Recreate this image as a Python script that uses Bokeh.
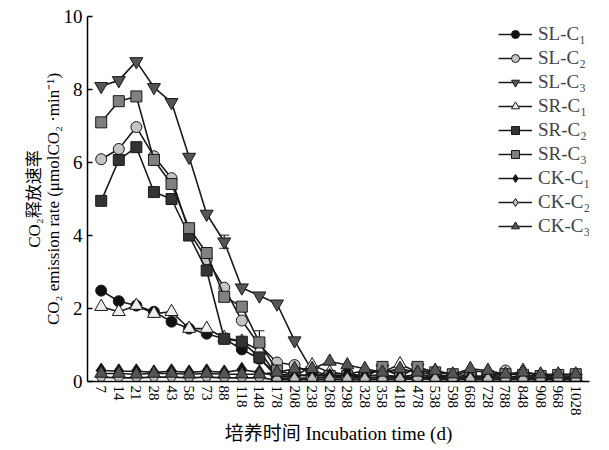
from bokeh.plotting import figure
from bokeh.models import FactorRange, Legend, LegendItem, Whisker, ColumnDataSource
from bokeh.embed import file_html
from bokeh.resources import INLINE

days = ["7", "14", "21", "28", "43", "58", "73", "88", "118", "148", "178", "208", "238", "268",
        "298", "328", "358", "418", "478", "538", "598", "668", "728", "788", "848", "908", "968", "1028"]

SL_C1 = [2.49, 2.20, 2.08, 1.91, 1.64, 1.45, 1.31, 1.17, 0.88, 0.62, 0.20, 0.18, 0.15, 0.20, 0.22, 0.15, 0.18, 0.12, 0.20, 0.12, 0.10, 0.12, 0.12, 0.10, 0.12, 0.10, 0.10, 0.10]
SL_C2 = [6.09, 6.37, 6.97, 6.17, 5.57, 4.10, 3.35, 2.57, 1.67, 1.00, 0.52, 0.45, 0.20, 0.15, 0.12, 0.10, 0.12, 0.10, 0.10, 0.10, 0.10, 0.12, 0.10, 0.30, 0.12, 0.10, 0.10, 0.10]
SL_C3 = [8.09, 8.25, 8.77, 8.06, 7.65, 6.15, 4.59, 3.83, 2.57, 2.35, 2.13, 1.12, 0.30, 0.15, 0.12, 0.15, 0.35, 0.15, 0.38, 0.15, 0.12, 0.10, 0.12, 0.10, 0.10, 0.10, 0.10, 0.10]
SR_C1 = [2.05, 1.91, 2.08, 1.86, 1.91, 1.45, 1.45, 1.20, 1.10, 0.85, 0.15, 0.12, 0.45, 0.25, 0.20, 0.30, 0.25, 0.48, 0.25, 0.18, 0.15, 0.30, 0.25, 0.15, 0.30, 0.12, 0.12, 0.12]
SR_C2 = [4.95, 6.07, 6.42, 5.19, 5.00, 4.00, 3.04, 1.17, 1.09, 0.66, 0.10, 0.08, 0.10, 0.10, 0.10, 0.10, 0.10, 0.10, 0.10, 0.10, 0.10, 0.10, 0.10, 0.10, 0.10, 0.10, 0.10, 0.12]
SR_C3 = [7.10, 7.68, 7.81, 6.07, 5.41, 4.20, 3.52, 2.32, 2.05, 1.07, 0.30, 0.18, 0.15, 0.15, 0.15, 0.12, 0.40, 0.15, 0.40, 0.25, 0.20, 0.15, 0.15, 0.20, 0.18, 0.15, 0.18, 0.20]
CK_C1 = [0.30, 0.28, 0.28, 0.25, 0.28, 0.25, 0.28, 0.25, 0.32, 0.25, 0.15, 0.15, 0.20, 0.15, 0.18, 0.15, 0.18, 0.12, 0.18, 0.12, 0.12, 0.12, 0.12, 0.12, 0.15, 0.15, 0.15, 0.15]
CK_C2 = [0.12, 0.10, 0.10, 0.12, 0.12, 0.10, 0.12, 0.10, 0.10, 0.10, 0.05, 0.05, 0.05, 0.05, 0.05, 0.05, 0.05, 0.05, 0.08, 0.05, 0.05, 0.05, 0.05, 0.05, 0.05, 0.05, 0.05, 0.05]
CK_C3 = [0.22, 0.22, 0.20, 0.22, 0.22, 0.20, 0.22, 0.20, 0.20, 0.20, 0.25, 0.35, 0.35, 0.55, 0.45, 0.35, 0.25, 0.35, 0.25, 0.30, 0.20, 0.35, 0.30, 0.20, 0.25, 0.20, 0.20, 0.20]

# error bars (only where visible)
err_days = ["88", "148"]
err_vals = [3.83, 1.07]
err_size = [0.18, 0.32]

series = [
    ("SL-C₁", SL_C1, "circle", "#111111"),
    ("SL-C₂", SL_C2, "circle", "#c4c4c4"),
    ("SL-C₃", SL_C3, "inverted_triangle", "#555555"),
    ("SR-C₁", SR_C1, "triangle", "#eeeeee"),
    ("SR-C₂", SR_C2, "square", "#333333"),
    ("SR-C₃", SR_C3, "square", "#808080"),
    ("CK-C₁", CK_C1, "diamond", "#111111"),
    ("CK-C₂", CK_C2, "diamond", "#bbbbbb"),
    ("CK-C₃", CK_C3, "triangle", "#555555"),
]
marker_size = {"circle": 11, "square": 11, "diamond": 15, "triangle": 13, "inverted_triangle": 13}

SERIF = "'Liberation Serif', 'Times New Roman', 'Noto Sans CJK SC', serif"

p = figure(width=593, height=446, x_range=FactorRange(factors=days, range_padding=0.02),
           y_range=(0, 10), output_backend="svg", toolbar_location=None,
           min_border_left=87, min_border_right=4, min_border_top=16, min_border_bottom=50)
p.outline_line_color = None
p.grid.visible = False
p.background_fill_color = "white"

items = []
for name, vals, marker, color in series:
    src = ColumnDataSource(dict(x=days, y=vals))
    r1 = p.line("x", "y", source=src, line_color="#1a1a1a", line_width=1.6)
    r2 = p.scatter("x", "y", source=src, marker=marker, size=marker_size[marker], fill_color=color,
                   line_color="#1a1a1a", line_width=1)
    items.append(LegendItem(label=name, renderers=[r1, r2]))

esrc = ColumnDataSource(dict(x=err_days, lo=[v - e for v, e in zip(err_vals, err_size)],
                             hi=[v + e for v, e in zip(err_vals, err_size)]))
w = Whisker(base="x", lower="lo", upper="hi", source=esrc, line_color="#1a1a1a", line_width=1.2)
w.upper_head.size = 10
w.lower_head.size = 10
w.upper_head.line_color = "#1a1a1a"
w.lower_head.line_color = "#1a1a1a"
p.add_layout(w)

legend = Legend(items=items, location=(411, 144), border_line_color=None,
                background_fill_alpha=0, label_text_font=SERIF, label_text_font_size="19px",
                glyph_width=34, glyph_height=20, label_height=20, spacing=2,
                margin=0, padding=8, label_standoff=6)
p.add_layout(legend)

p.yaxis.ticker = [0, 2, 4, 6, 8, 10]
p.yaxis.major_tick_in = 5
p.yaxis.major_tick_out = 0
p.yaxis.minor_tick_line_color = None
p.yaxis.major_label_text_font = SERIF
p.yaxis.major_label_text_font_size = "19px"
p.yaxis.axis_label = "CO₂释放速率\nCO₂ emission rate (μmolCO₂ ·min⁻¹)"
p.yaxis.axis_label_text_font = SERIF
p.yaxis.axis_label_text_font_size = "17px"
p.yaxis.axis_label_text_font_style = "normal"
p.yaxis.axis_label_text_line_height = 1.0
p.yaxis.axis_label_standoff = -2

p.xaxis.major_label_orientation = "vertical"
p.xaxis.major_tick_line_color = None
p.xaxis.major_tick_out = 0
p.xaxis.major_tick_in = 0
p.xaxis.major_label_standoff = 4
p.xaxis.major_label_text_font = SERIF
p.xaxis.major_label_text_font_size = "15px"
p.xaxis.axis_label = "培养时间 Incubation time (d)"
p.xaxis.axis_label_text_font = SERIF
p.xaxis.axis_label_text_font_size = "19px"
p.xaxis.axis_label_text_font_style = "normal"
p.xaxis.axis_label_standoff = 4

for ax in (p.xaxis, p.yaxis):
    ax.axis_line_color = "black"
    ax.axis_line_width = 1.5
    ax.major_tick_line_width = 1.5
    ax.major_label_text_color = "black"
    ax.axis_label_text_color = "black"

open("out.html", "w").write(file_html(p, INLINE))
